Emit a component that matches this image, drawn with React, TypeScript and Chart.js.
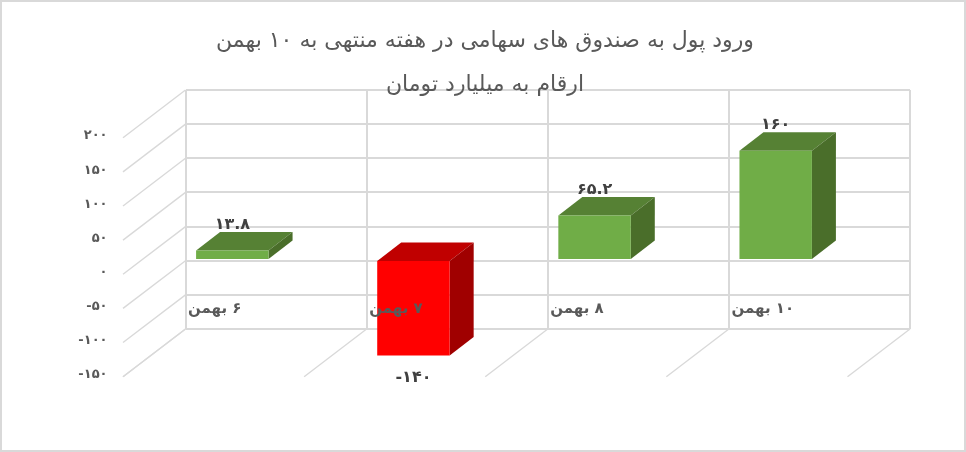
import React, { useEffect, useRef } from 'react';
import { Chart, registerables } from 'chart.js';

Chart.register(...registerables);

const FONT = '"DejaVu Sans", sans-serif';

const categories = ['\u200F۶ بهمن', '\u200F۷ بهمن', '\u200F۸ بهمن', '\u200F۱۰ بهمن'];
const flows = [13.8, -140, 65.2, 160];
const flowLabels = ['۱۳.۸', '-۱۴۰', '۶۵.۲', '۱۶۰'];
const yTickValues = [200, 150, 100, 50, 0, -50, -100, -150];
const yTickLabels = ['۲۰۰', '۱۵۰', '۱۰۰', '۵۰', '۰', '-۵۰', '-۱۰۰', '-۱۵۰'];
const titleLines = ['ورود پول به صندوق های سهامی در هفته منتهی به ۱۰ بهمن', 'ارقام به میلیارد تومان'];

const GRID = '#d9d9d9';
const WALL_DX = -62.5;
const WALL_DY = 47.7;
const BAR_SHIFT = 0.7; // bar front face sits this far from the back wall
const BAR_DX = 24;
const BAR_DY = -18.5;

const faceColors = (v: number) => (v >= 0
    ? { front: '#70ad47', top: '#568134', side: '#4a6e2a' }
    : { front: '#ff0000', top: '#c00000', side: '#a00000' });

const poly = (ctx: CanvasRenderingContext2D, pts: number[][], color: string) => {
    ctx.fillStyle = color;
    ctx.beginPath();
    pts.forEach((p, i) => (i ? ctx.lineTo(p[0], p[1]) : ctx.moveTo(p[0], p[1])));
    ctx.closePath();
    ctx.fill();
};

// side wall and floor lines, plus depth faces and value labels of the bars
const depthPlugin = {
    id: 'depth',
    beforeDatasetsDraw(chart: any) {
        const { ctx, chartArea, scales } = chart;
        ctx.save();
        ctx.strokeStyle = GRID;
        ctx.lineWidth = 1.4;
        const stroke = (x: number, y: number) => {
            ctx.beginPath();
            ctx.moveTo(x, y);
            ctx.lineTo(x + WALL_DX, y + WALL_DY);
            ctx.stroke();
        };
        yTickValues.forEach(v => stroke(chartArea.left, scales.y.getPixelForValue(v)));
        const step = chartArea.width / categories.length;
        for (let i = 0; i <= categories.length; i++) {
            stroke(chartArea.left + i * step, chartArea.bottom);
        }

        const dx = WALL_DX * BAR_SHIFT;
        const dy = WALL_DY * BAR_SHIFT;
        ctx.font = `bold 16px ${FONT}`;
        ctx.textAlign = 'center';
        ctx.textBaseline = 'middle';
        const meta = chart.getDatasetMeta(0);
        meta.data.forEach((bar: any, i: number) => {
            const tip = flows[i] >= 0 ? bar.y - 26 : bar.y + 22;
            ctx.fillStyle = '#404040';
            ctx.fillText(flowLabels[i], bar.x + dx, tip + dy);
        });
        meta.data.forEach((bar: any, i: number) => {
            const c = faceColors(flows[i]);
            const l = bar.x - bar.width / 2 + dx;
            const r = bar.x + bar.width / 2 + dx;
            const t = Math.min(bar.y, bar.base) + dy;
            const b = Math.max(bar.y, bar.base) + dy;
            poly(ctx, [[l, t], [r, t], [r + BAR_DX, t + BAR_DY], [l + BAR_DX, t + BAR_DY]], c.top);
            poly(ctx, [[r, t], [r + BAR_DX, t + BAR_DY], [r + BAR_DX, b + BAR_DY], [r, b]], c.side);
        });
        ctx.restore();

        // the native bars are drawn in the front plane of the bar slice
        ctx.save();
        ctx.translate(dx, dy);
    },
    afterDatasetsDraw(chart: any) {
        chart.ctx.restore();
    },
};

const App: React.FC = () => {
    const canvasRef = useRef<HTMLCanvasElement>(null);

    useEffect(() => {
        if (!canvasRef.current) return;
        const chart = new Chart(canvasRef.current, {
            type: 'bar',
            data: {
                labels: categories,
                datasets: [{
                    data: flows,
                    backgroundColor: flows.map(v => faceColors(v).front),
                    barPercentage: 0.4,
                    categoryPercentage: 1,
                    clip: false,
                }],
            },
            options: {
                responsive: false,
                animation: false,
                layout: { padding: { left: 4, top: 0, right: 0, bottom: 123 } },
                scales: {
                    x: {
                        position: { y: -50 },
                        grid: { color: GRID, lineWidth: 2, offset: true, drawTicks: false },
                        border: { display: false },
                        afterFit: (scale: any) => { scale.height = 0; },
                        ticks: {
                            z: 1,
                            align: 'start',
                            labelOffset: -88,
                            padding: 39,
                            maxRotation: 0,
                            autoSkip: false,
                            color: '#595959',
                            font: { family: FONT, size: 15, weight: 'bold' },
                        },
                    },
                    y: {
                        min: -150,
                        max: 200,
                        grid: { color: GRID, lineWidth: 2, drawTicks: false },
                        border: { display: false },
                        afterFit: (scale: any) => { scale.width = 181.5; },
                        ticks: {
                            stepSize: 50,
                            padding: 78,
                            labelOffset: 46,
                            color: '#595959',
                            font: { family: FONT, size: 13, weight: 'bold' },
                            callback: (value: any) => yTickLabels[yTickValues.indexOf(Number(value))],
                        },
                    },
                    // empty axis that keeps the plot clear of the right edge while the title stays centred on the page
                    spacer: {
                        position: 'right',
                        grid: { display: false },
                        border: { display: false },
                        ticks: { display: false },
                        afterFit: (scale: any) => { scale.width = 56; },
                    },
                },
                plugins: {
                    legend: { display: false },
                    tooltip: { enabled: false },
                    title: {
                        display: true,
                        text: titleLines,
                        color: '#595959',
                        font: { family: FONT, size: 22, weight: 'normal', lineHeight: 2 },
                        padding: { top: 19, bottom: -17 },
                    },
                },
            },
            plugins: [depthPlugin],
        } as any);

        return () => {
            chart.destroy();
        };
    }, []);

    return (
        <div style={{ position: 'absolute', left: 0, top: 0, width: 966, height: 452, boxSizing: 'border-box', border: '2px solid #d9d9d9' }}>
            <canvas ref={canvasRef} width={966} height={452} style={{ position: 'absolute', left: -2, top: -2 }} />
        </div>
    );
};

export default App;
